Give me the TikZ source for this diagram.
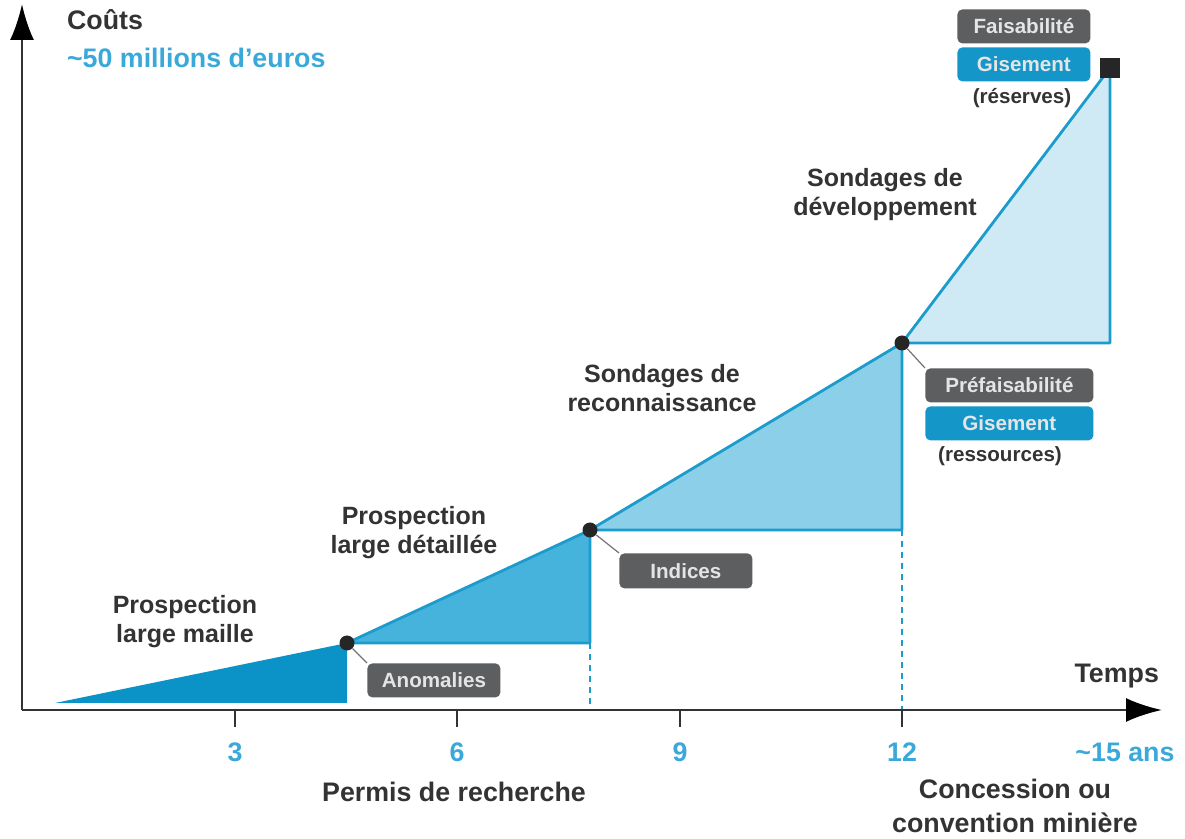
\documentclass[tikz,border=0pt]{standalone}
\usepackage{fontspec}
\setmainfont{Liberation Sans}
\usetikzlibrary{arrows.meta}
\definecolor{bleutxt}{HTML}{3AA8D8}
\definecolor{gristxt}{HTML}{333333}
\definecolor{boxgris}{HTML}{5D5E60}
\definecolor{boxbleu}{HTML}{1596C9}
\definecolor{trait}{HTML}{1C9CCC}
\definecolor{phaseA}{HTML}{0B93C8}
\definecolor{phaseB}{HTML}{46B3DC}
\definecolor{phaseC}{HTML}{8CCFE8}
\definecolor{phaseD}{HTML}{D0EAF5}
\tikzset{
	axe/.style={draw=black!80, line width=1.4pt},
	fleche/.style={-{Latex[length=18pt,width=12pt,fill=black,color=black]}},
	bord/.style={draw=trait, line width=1.4pt, line join=round},
	tiret/.style={draw=trait, line width=0.7pt, dash pattern=on 3pt off 2.5pt},
	lien/.style={draw=black!55, line width=0.6pt},
	point/.style={circle, fill=black!85, inner sep=0pt, minimum size=7.5pt},
	etiq/.style={fill=boxgris, text=white!90!black, rounded corners=2.5pt, anchor=north west,
		minimum width=66.5pt, minimum height=17pt, inner sep=0pt, font=\fontsize{10.3}{12}\selectfont\bfseries},
	phase/.style={align=center, text=gristxt, font=\fontsize{12.5}{14.5}\selectfont\bfseries},
	titre/.style={text=gristxt, font=\fontsize{13.4}{17}\selectfont\bfseries},
	valeur/.style={text=bleutxt, font=\fontsize{13.4}{17}\selectfont\bfseries},
	note/.style={text=gristxt, font=\fontsize{10.3}{12}\selectfont\bfseries}
}
\begin{document}
\begin{tikzpicture}[x=0.5pt, y=-0.5pt]
	\useasboundingbox (0,0) rectangle (1185,839);
	\coordinate (O) at (22,710);
	\coordinate (a0) at (55,703);
	\coordinate (a1) at (347,643);
	\coordinate (b1) at (590,530);
	\coordinate (c1) at (902,343);
	\coordinate (d1) at (1110,68);
	\fill[phaseA] (a0) -- (a1) -- (a1 |- a0) -- cycle;
	\filldraw[bord, fill=phaseB] (a1) -- (b1) -- (b1 |- a1) -- cycle;
	\filldraw[bord, fill=phaseC] (b1) -- (c1) -- (c1 |- b1) -- cycle;
	\filldraw[bord, fill=phaseD] (c1) -- (d1) -- (d1 |- c1) -- cycle;
	\draw[tiret] (b1 |- a1) -- (b1 |- O);
	\draw[tiret] (c1 |- b1) -- (c1 |- O);
	\draw[axe, fleche] (O) -- (22,4);
	\draw[axe, fleche] (O) -- (1162,710);
	\foreach \x/\t in {235/3, 457/6, 680/9, 902/12}{
		\draw[axe] (\x,710) -- (\x,727);
		\node[valeur] (g\t) at (\x,752) {\t};
	}
	\node[valeur] (g15) at (1125,752) {\textasciitilde15 ans};
	\node[titre, anchor=east] (temps) at (1166,676) {Temps};
	\node[titre, anchor=west] (couts) at (60,20) {Coûts};
	\node[valeur, anchor=west] (budget) at (60,58) {\textasciitilde50 millions d'euros};
	\node[titre] (permis) at (454,792) {Permis de recherche};
	\node[titre, align=center] (concession) at (1015,806) {Concession ou\\convention minière};
	\node[phase] (ph1) at (185,622) {Prospection\\large maille};
	\node[phase] (ph2) at (414,533) {Prospection\\large détaillée};
	\node[phase] (ph3) at (662,388) {Sondages de\\reconnaissance};
	\node[phase] (ph4) at (885,195) {Sondages de\\développement};
	\node[point] (p1) at (a1) {};
	\node[point] (p2) at (b1) {};
	\node[point] (p3) at (c1) {};
	\node[fill=black!85, minimum size=10pt, inner sep=0pt] (fin) at (d1) {};
	\node[etiq] (anom) at (367,663) {Anomalies};
	\node[etiq, minimum height=17.5pt] (ind) at (619,553) {Indices};
	\node[etiq, minimum width=84pt] (prefa) at (925,368) {Préfaisabilité};
	\node[etiq, minimum width=84pt, fill=boxbleu] (gis1) at (925,406) {Gisement};
	\node[note] (ress) at (1000,456) {(ressources)};
	\node[etiq] (faisa) at (957,9) {Faisabilité};
	\node[etiq, fill=boxbleu] (gis2) at (957,47) {Gisement};
	\node[note] (res) at (1022,98) {(réserves)};
	\draw[lien] (p1) -- (anom.north west);
	\draw[lien] (p2) -- (ind.north west);
	\draw[lien] (p3) -- (prefa.north west);
\end{tikzpicture}
\end{document}
